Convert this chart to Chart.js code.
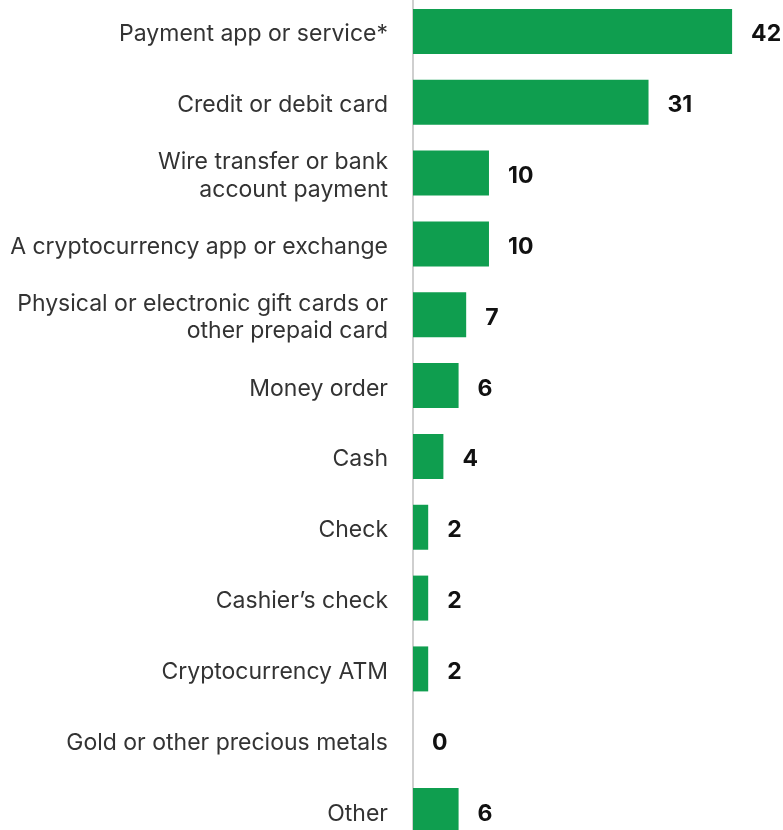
<!DOCTYPE html>
<html>
<head>
<meta charset="utf-8">
<script src="https://cdn.jsdelivr.net/npm/chart.js@4"></script>
<style>
    html, body { margin: 0; padding: 0; background: #fff; overflow: hidden; }
    #wrap { position: absolute; left: 0; top: -4px; width: 783px; height: 850px; }
</style>
</head>
<body>
<div id="wrap"><canvas id="payChart"></canvas></div>
<script>
// Categorias (rótulos com quebra de linha onde precisa)
const categorias = [
    'Payment app or service*',
    'Credit or debit card',
    ['Wire transfer or bank', 'account payment'],
    'A cryptocurrency app or exchange',
    ['Physical or electronic gift cards or', 'other prepaid card'],
    'Money order',
    'Cash',
    'Check',
    'Cashier\u2019s check',
    'Cryptocurrency ATM',
    'Gold or other precious metals',
    'Other'
];
const valores = [42, 31, 10, 10, 7, 6, 4, 2, 2, 2, 0, 6];

const VERDE = '#0f9e4f';

// Escreve o valor logo depois de cada barra
const rotulosValor = {
    id: 'rotulosValor',
    afterDatasetsDraw(chart) {
        const ctx = chart.ctx;
        const meta = chart.getDatasetMeta(0);
        ctx.save();
        ctx.font = 'bold 23px Inter, Roboto, sans-serif';
        ctx.fillStyle = '#111';
        ctx.textAlign = 'left';
        ctx.textBaseline = 'middle';
        meta.data.forEach((bar, i) => {
            ctx.fillText(String(valores[i]), bar.x + 19, bar.y + 3);
        });
        ctx.restore();
    }
};

// Desce um pouco os rótulos do eixo y
const desceRotulos = {
    id: 'desceRotulos',
    afterLayout(chart) {
        const eixo = chart.scales.y;
        if (eixo._desceu) return;
        const original = eixo.drawLabels;
        eixo.drawLabels = function (area) {
            chart.ctx.save();
            chart.ctx.translate(0, 3);
            original.call(this, area);
            chart.ctx.restore();
        };
        eixo._desceu = true;
    }
};

new Chart(document.getElementById('payChart'), {
    type: 'bar',
    data: {
        labels: categorias,
        datasets: [{
            data: valores,
            backgroundColor: VERDE,
            barPercentage: 0.635,
            categoryPercentage: 1
        }]
    },
    options: {
        indexAxis: 'y',
        responsive: true,
        maintainAspectRatio: false,
        animation: false,
        layout: { padding: 0 },
        plugins: {
            legend: { display: false },
            tooltip: { enabled: false }
        },
        scales: {
            x: {
                display: false,
                min: 0,
                max: 48.7
            },
            y: {
                // largura fixa do eixo e sem folga em cima/embaixo
                afterFit(scale) {
                    scale.width = 413;
                    scale.paddingTop = 0;
                    scale.paddingBottom = 0;
                },
                grid: { display: false, drawTicks: false },
                border: { display: true, color: '#cfcfcf', width: 2 },
                ticks: {
                    padding: 25,
                    color: '#333',
                    font: { family: 'Inter, Roboto, sans-serif', size: 23, lineHeight: 1.18 }
                }
            }
        }
    },
    plugins: [rotulosValor, desceRotulos]
});
</script>
</body>
</html>
